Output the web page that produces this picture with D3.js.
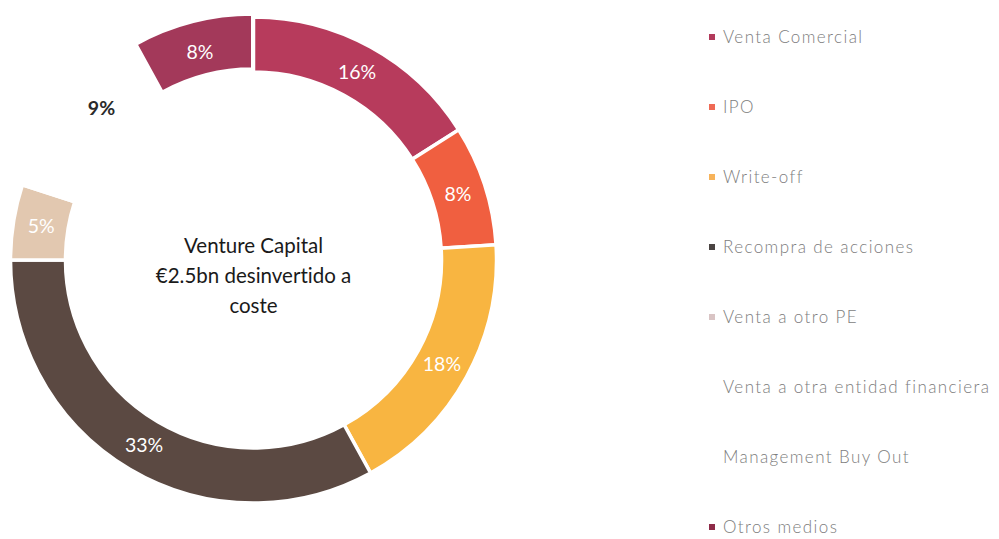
<!DOCTYPE html>
<html>
<head>
<meta charset="utf-8">
<script src="https://cdn.jsdelivr.net/npm/d3@7"></script>
<style>
  body { margin: 0; background: #fff; }
  svg { display: block; font-family: Lato, "Open Sans", sans-serif; font-variant-ligatures: none; }
</style>
</head>
<body>
<script>
// chart data
var categories = ["Venta Comercial", "IPO", "Write-off", "Recompra de acciones",
                  "Venta a otro PE", "Venta a otra entidad financiera", "Management Buy Out", "Otros medios"];
var values = [16, 8, 18, 33, 5, 3, 9, 8];
var labels = ["16%", "8%", "18%", "33%", "5%", "", "9%", "8%"];
var colors = ["#b73b5c", "#f05f40", "#f8b541", "#5b4942", "#e2c8b0", "#ffffff", "#ffffff", "#a3395a"];
var legendColors = ["#b23a5b", "#ef6a55", "#f7b35a", "#4a4442", "#d9c4c4", "#ffffff", "#ffffff", "#8e2b48"];
var labelColors = ["#fff", "#fff", "#fff", "#fff", "#fff", "#fff", "#2a2a2a", "#fff"];
var explodedIndex = 7;

var width = 999,
    height = 539;

var svg = d3.select("body").append("svg")
    .attr("width", width)
    .attr("height", height);

var cx = 253.5, cy = 260;
var outerR = 243, innerR = 188, labelR = 215;

var pie = d3.pie().sort(null).value(function(d) { return d; });
var arcs = pie(values);

var arc = d3.arc().innerRadius(innerR).outerRadius(outerR);
var labelArc = d3.arc().innerRadius(labelR).outerRadius(labelR);

var g = svg.append("g").attr("transform", "translate(" + cx + "," + cy + ")");

// donut slices; "Otros medios" is pulled out a little
g.selectAll("path")
  .data(arcs)
  .enter().append("path")
    .attr("d", arc)
    .attr("fill", function(d, i) { return colors[i]; })
    .attr("stroke", "#fff")
    .attr("stroke-width", 3.5)
    .attr("transform", function(d, i) {
      if (i !== explodedIndex) return null;
      var a = (d.startAngle + d.endAngle) / 2;
      return "translate(" + (Math.sin(a) * 3) + "," + (-Math.cos(a) * 3) + ")";
    });

// percentage labels
g.selectAll("text.pct")
  .data(arcs)
  .enter().append("text")
    .attr("class", "pct")
    .attr("transform", function(d) { return "translate(" + labelArc.centroid(d) + ")"; })
    .attr("text-anchor", "middle")
    .attr("dy", "0.36em")
    .attr("font-size", 19.5)
    .attr("font-weight", function(d, i) { return i === 6 ? 700 : 400; })
    .attr("fill", function(d, i) { return labelColors[i]; })
    .text(function(d, i) { return labels[i]; });

// centre title
var titleLines = ["Venture Capital", "€2.5bn desinvertido a", "coste"];
g.selectAll("text.title")
  .data(titleLines)
  .enter().append("text")
    .attr("class", "title")
    .attr("x", 0)
    .attr("y", function(d, i) { return -7 + i * 30; })
    .attr("text-anchor", "middle")
    .attr("font-size", 20.5)
    .attr("fill", "#1a1a1a")
    .text(function(d) { return d; });

// legend
var legend = svg.append("g").attr("transform", "translate(709,0)");
var row = legend.selectAll("g")
  .data(categories)
  .enter().append("g")
    .attr("transform", function(d, i) { return "translate(0," + (37 + i * 70) + ")"; });

row.append("rect")
    .attr("x", 0)
    .attr("y", -3)
    .attr("width", 6)
    .attr("height", 6)
    .attr("fill", function(d, i) { return legendColors[i]; });

row.append("text")
    .attr("x", 14)
    .attr("dy", "0.36em")
    .attr("font-size", 17)
    .attr("font-weight", 300)
    .attr("letter-spacing", 1.4)
    .attr("fill", "#7d7d7d")
    .text(function(d) { return d; });
</script>
</body>
</html>
